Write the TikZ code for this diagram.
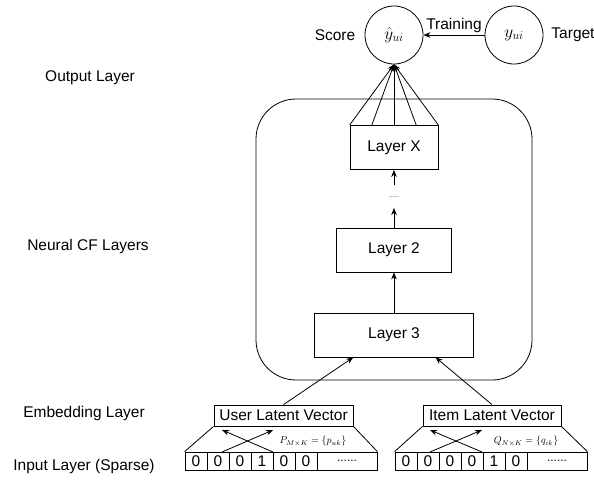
\documentclass[tikz,border=0pt]{standalone}
\usepackage{fontspec}
\setmainfont{Liberation Sans}
\usetikzlibrary{calc,arrows.meta}
\begin{document}
\begin{tikzpicture}[x=1pt,y=-1pt,line width=0.8pt,
  txt/.style={font=\fontsize{15.5}{18}\selectfont},
  layerbox/.style={draw,txt,inner sep=0pt,minimum height=44pt},
  vecbox/.style={draw,txt,inner sep=0pt,minimum height=21pt},
  cell/.style={draw,txt,inner sep=0pt,minimum width=22pt,minimum height=18pt},
  dotcell/.style={draw,inner sep=0pt,minimum width=60pt,minimum height=18pt,font=\fontsize{12}{14}\selectfont},
  circ/.style={draw,circle,inner sep=0pt,minimum size=58pt,font=\fontsize{17}{20}\selectfont},
  arr/.style={-{Stealth[length=7pt,width=5.5pt]}},
  smallmath/.style={font=\fontsize{10}{12}\selectfont}]
\fill[white] (0,0) rectangle (594,480);
\useasboundingbox (0,0) rectangle (594,480);

% left labels
\node[txt] (lout) at (90,78) {Output Layer};
\node[txt] (lncf) at (88,246) {Neural CF Layers};
\node[txt] (lemb) at (84,413) {Embedding Layer};
\node[txt] (linp) at (84,466) {Input Layer (Sparse)};

% output circles
\node[circ] (yhat) at (394,35) {$\hat{y}_{ui}$};
\node[circ] (yt) at (514,35) {$y_{ui}$};
\node[txt] (score) at (335,35) {Score};
\node[txt] (target) at (573,35) {Target};
\draw[arr] (yt) -- node[txt,above,yshift=-1pt] (train) {Training} (yhat);

% neural CF block
\node[draw,rounded corners=40pt,minimum width=276pt,minimum height=281pt] (ncf) at (394,239.5) {};
\node[layerbox,minimum width=88pt] (lx) at (394,147.5) {Layer X};
\node[layerbox,minimum width=115pt] (l2) at (394,250) {Layer 2};
\node[layerbox,minimum width=159pt] (l3) at (394,335) {Layer 3};
\node[font=\fontsize{6}{7}\selectfont,inner sep=1pt] (dots) at (394,197) {......};
\coordinate (dtop) at (394,185);
\coordinate (dbot) at (394,208);

\draw[arr] (l3) -- (l2);
\draw[arr] (l2) -- (dbot);
\draw[arr] (dtop) -- (lx);
\foreach \f in {0,0.25,0.5,0.75,1}
  \draw[arr] ($(lx.north west)!\f!(lx.north east)$) -- (yhat.south);

% embedding
\node[vecbox,minimum width=139pt] (user) at (283.5,415.5) {User Latent Vector};
\node[vecbox,minimum width=138pt] (item) at (492,415.5) {Item Latent Vector};
\draw[arr] (user.north) -- ($(l3.south west)!0.245!(l3.south east)$);
\draw[arr] (item.north) -- ($(l3.south west)!0.76!(l3.south east)$);

% input rows
\foreach \v [count=\i] in {0,0,0,1,0,0}
  \node[cell] (u\i) at ({185+11+22*(\i-1)},461) {\v};
\node[dotcell] (ud) at (347,461) {......};
\foreach \v [count=\i] in {0,0,0,0,1,0}
  \node[cell] (t\i) at ({395+11+22*(\i-1)},461) {\v};
\node[dotcell] (td) at (557,461) {......};

% trapezoid sides
\draw (user.south west) -- (u1.north west);
\draw (user.south east) -- (ud.north east);
\draw (item.south west) -- (t1.north west);
\draw (item.south east) -- (td.north east);

% crossing arrows
\coordinate (ua) at (222,452); \coordinate (ub) at (273,452);
\coordinate (uA) at (222,430); \coordinate (uB) at (273,430);
\draw[arr] (ua) -- (uB);
\draw[arr] (ub) -- (uA);
\coordinate (ta) at (430,452); \coordinate (tb) at (482,452);
\coordinate (tA) at (430,430); \coordinate (tB) at (482,430);
\draw[arr] (ta) -- (tB);
\draw[arr] (tb) -- (tA);

\node[smallmath] (pm) at (313,441) {$P_{M\times K}=\{p_{uk}\}$};
\node[smallmath] (qm) at (526,441) {$Q_{N\times K}=\{q_{ik}\}$};
\end{tikzpicture}
\end{document}
